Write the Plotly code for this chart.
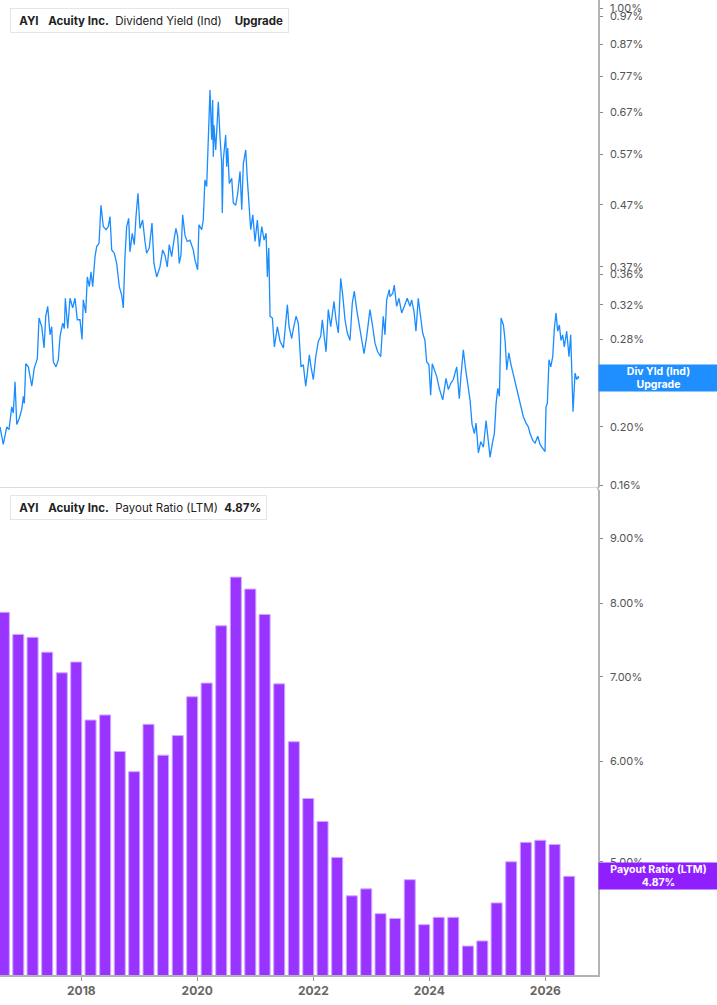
import math
from datetime import datetime
import plotly.graph_objects as go
from plotly.subplots import make_subplots

# ---------------- data ----------------
# Dividend yield (indicated), time in decimal years, value in %
yield_t = [
    2016.598, 2016.655, 2016.714, 2016.753, 2016.800, 2016.827, 2016.857, 2016.886, 2016.931, 2016.972,
    2017.000, 2017.017, 2017.041, 2017.086, 2017.145, 2017.189, 2017.241, 2017.270, 2017.317, 2017.357,
    2017.386, 2017.420, 2017.460, 2017.489, 2017.517, 2017.563, 2017.603, 2017.632, 2017.679, 2017.707,
    2017.724, 2017.765, 2017.805, 2017.851, 2017.891, 2017.931, 2017.977, 2018.012, 2018.034, 2018.076,
    2018.103, 2018.138, 2018.167, 2018.196, 2018.236, 2018.265, 2018.305, 2018.339, 2018.379, 2018.426,
    2018.465, 2018.495, 2018.524, 2018.569, 2018.610, 2018.655, 2018.696, 2018.724, 2018.753, 2018.782,
    2018.817, 2018.839, 2018.879, 2018.914, 2018.943, 2018.977, 2019.012, 2019.058, 2019.098, 2019.127,
    2019.172, 2019.219, 2019.253, 2019.300, 2019.357, 2019.403, 2019.443, 2019.483, 2019.517, 2019.558,
    2019.598, 2019.632, 2019.662, 2019.689, 2019.719, 2019.748, 2019.788, 2019.827, 2019.874, 2019.931,
    2019.960, 2020.007, 2020.029, 2020.076, 2020.103, 2020.132, 2020.162, 2020.189, 2020.219, 2020.248,
    2020.265, 2020.276, 2020.287, 2020.317, 2020.334, 2020.362, 2020.391, 2020.420, 2020.431, 2020.448,
    2020.489, 2020.506, 2020.524, 2020.551, 2020.593, 2020.620, 2020.662, 2020.696, 2020.736, 2020.765,
    2020.793, 2020.834, 2020.862, 2020.891, 2020.920, 2020.955, 2020.994, 2021.034, 2021.069, 2021.110,
    2021.150, 2021.184, 2021.207, 2021.231, 2021.253, 2021.293, 2021.328, 2021.379, 2021.426, 2021.483,
    2021.524, 2021.552, 2021.581, 2021.627, 2021.655, 2021.701, 2021.741, 2021.787, 2021.827, 2021.868,
    2021.896, 2021.931, 2021.960, 2022.000, 2022.041, 2022.086, 2022.127, 2022.155, 2022.184, 2022.219,
    2022.258, 2022.300, 2022.356, 2022.391, 2022.431, 2022.472, 2022.507, 2022.546, 2022.586, 2022.632,
    2022.672, 2022.707, 2022.748, 2022.788, 2022.834, 2022.874, 2022.920, 2022.977, 2023.024, 2023.063,
    2023.110, 2023.162, 2023.206, 2023.236, 2023.265, 2023.310, 2023.322, 2023.369, 2023.396, 2023.437,
    2023.477, 2023.524, 2023.569, 2023.620, 2023.667, 2023.696, 2023.736, 2023.770, 2023.810, 2023.851,
    2023.886, 2023.925, 2023.955, 2023.994, 2024.024, 2024.051, 2024.086, 2024.127, 2024.172, 2024.231,
    2024.288, 2024.327, 2024.374, 2024.413, 2024.472, 2024.517, 2024.546, 2024.586, 2024.627, 2024.662,
    2024.701, 2024.736, 2024.776, 2024.805, 2024.845, 2024.886, 2024.931, 2024.977, 2025.012, 2025.046,
    2025.086, 2025.120, 2025.150, 2025.179, 2025.207, 2025.236, 2025.276, 2025.305, 2025.334, 2025.369,
    2025.408, 2025.448, 2025.494, 2025.534, 2025.581, 2025.620, 2025.667, 2025.707, 2025.736, 2025.782,
    2025.822, 2025.869, 2025.908, 2025.955, 2025.994, 2026.011, 2026.034, 2026.063, 2026.093, 2026.127,
    2026.155, 2026.184, 2026.213, 2026.241, 2026.270, 2026.299, 2026.327, 2026.368, 2026.408, 2026.437,
    2026.455, 2026.477, 2026.512, 2026.541, 2026.569, 2026.575,
]
yield_pct = [
    0.200, 0.187, 0.200, 0.198, 0.216, 0.211, 0.238, 0.202, 0.207, 0.214,
    0.225, 0.219, 0.255, 0.252, 0.234, 0.251, 0.260, 0.304, 0.294, 0.271,
    0.306, 0.318, 0.285, 0.294, 0.257, 0.252, 0.259, 0.283, 0.298, 0.292,
    0.328, 0.292, 0.328, 0.316, 0.328, 0.302, 0.302, 0.280, 0.326, 0.310,
    0.356, 0.343, 0.363, 0.343, 0.385, 0.400, 0.405, 0.469, 0.432, 0.427,
    0.432, 0.449, 0.395, 0.390, 0.375, 0.343, 0.332, 0.316, 0.385, 0.432,
    0.446, 0.392, 0.421, 0.403, 0.449, 0.491, 0.429, 0.443, 0.408, 0.390,
    0.398, 0.438, 0.375, 0.356, 0.370, 0.395, 0.387, 0.370, 0.403, 0.385,
    0.410, 0.429, 0.416, 0.375, 0.387, 0.452, 0.418, 0.408, 0.410, 0.395,
    0.380, 0.366, 0.435, 0.427, 0.443, 0.517, 0.504, 0.619, 0.730, 0.603,
    0.703, 0.565, 0.638, 0.580, 0.626, 0.698, 0.610, 0.551, 0.455, 0.558,
    0.614, 0.544, 0.584, 0.510, 0.520, 0.473, 0.469, 0.491, 0.534, 0.461,
    0.551, 0.580, 0.517, 0.466, 0.427, 0.452, 0.408, 0.443, 0.400, 0.432,
    0.410, 0.421, 0.356, 0.398, 0.306, 0.304, 0.272, 0.294, 0.278, 0.271,
    0.306, 0.320, 0.294, 0.281, 0.292, 0.306, 0.298, 0.252, 0.254, 0.234,
    0.246, 0.264, 0.252, 0.240, 0.262, 0.278, 0.283, 0.302, 0.285, 0.267,
    0.314, 0.294, 0.324, 0.302, 0.287, 0.354, 0.332, 0.302, 0.287, 0.279,
    0.322, 0.337, 0.314, 0.298, 0.283, 0.265, 0.283, 0.314, 0.294, 0.276,
    0.267, 0.262, 0.306, 0.285, 0.326, 0.339, 0.330, 0.334, 0.345, 0.318,
    0.328, 0.310, 0.318, 0.328, 0.318, 0.326, 0.312, 0.289, 0.328, 0.306,
    0.287, 0.279, 0.257, 0.254, 0.226, 0.255, 0.249, 0.243, 0.232, 0.222,
    0.241, 0.231, 0.237, 0.240, 0.252, 0.223, 0.244, 0.269, 0.249, 0.237,
    0.222, 0.202, 0.195, 0.203, 0.181, 0.189, 0.185, 0.205, 0.193, 0.178,
    0.188, 0.195, 0.219, 0.232, 0.225, 0.304, 0.296, 0.279, 0.249, 0.266,
    0.254, 0.244, 0.235, 0.225, 0.216, 0.208, 0.203, 0.200, 0.195, 0.190,
    0.188, 0.193, 0.187, 0.184, 0.182, 0.216, 0.219, 0.259, 0.252, 0.262,
    0.292, 0.310, 0.289, 0.296, 0.279, 0.285, 0.272, 0.289, 0.262, 0.285,
    0.249, 0.212, 0.246, 0.240, 0.243, 0.241,
]

# Payout ratio (LTM), fiscal quarter ends, value in %
payout_dates = [
    "2016-08-31", "2016-11-30", "2017-02-28", "2017-05-31", "2017-08-31", "2017-11-30",
    "2018-02-28", "2018-05-31", "2018-08-31", "2018-11-30", "2019-02-28", "2019-05-31",
    "2019-08-31", "2019-11-30", "2020-02-29", "2020-05-31", "2020-08-31", "2020-11-30",
    "2021-02-28", "2021-05-31", "2021-08-31", "2021-11-30", "2022-02-28", "2022-05-31",
    "2022-08-31", "2022-11-30", "2023-02-28", "2023-05-31", "2023-08-31", "2023-11-30",
    "2024-02-29", "2024-05-31", "2024-08-31", "2024-11-30", "2025-02-28", "2025-05-31",
    "2025-08-31", "2025-11-30", "2026-02-28", "2026-05-31",
]
payout_pct = [
    7.87, 7.56, 7.52, 7.32, 7.05, 7.19, 6.47, 6.53, 6.11, 5.89,
    6.42, 6.07, 6.29, 6.75, 6.92, 7.68, 8.39, 8.21, 7.84, 6.91,
    6.22, 5.61, 5.38, 5.04, 4.70, 4.76, 4.55, 4.51, 4.84, 4.46,
    4.52, 4.52, 4.29, 4.33, 4.64, 5.00, 5.18, 5.20, 5.16, 4.87,
]

yield_ticks = [1.00, 0.97, 0.87, 0.77, 0.67, 0.57, 0.47, 0.37, 0.36, 0.32, 0.28, 0.24, 0.20, 0.16]
payout_ticks = [9.00, 8.00, 7.00, 6.00, 5.00]
year_ticks = ["2018-01-01", "2020-01-01", "2022-01-01", "2024-01-01", "2026-01-01"]
year_labels = ["2018", "2020", "2022", "2024", "2026"]


def dec_to_date(t):
    y = int(t)
    a, b = datetime(y, 1, 1), datetime(y + 1, 1, 1)
    return a + (b - a) * (t - y)


yield_dates = [dec_to_date(t) for t in yield_t]

# ---------------- figure ----------------
W, H = 717, 1005
BLUE = "#1a8cff"
PURPLE = "#9933ff"
FONT = "Inter"

fig = make_subplots(rows=2, cols=1, shared_xaxes=False, vertical_spacing=0.0)

fig.add_trace(go.Scatter(x=yield_dates, y=yield_pct, mode="lines",
                         line=dict(color=BLUE, width=1.3), showlegend=False),
              row=1, col=1)
fig.add_trace(go.Bar(x=payout_dates, y=payout_pct, width=6.0e9,
                     marker=dict(color=PURPLE, line=dict(color="#cfa8ff", width=1)),
                     showlegend=False),
              row=2, col=1)

xr = [dec_to_date(2016.598), dec_to_date(2026.908)]
xdom = [0, 598 / W]

fig.update_layout(
    width=W, height=H,
    margin=dict(l=0, r=0, t=0, b=0, autoexpand=False),
    paper_bgcolor="white", plot_bgcolor="white",
    font=dict(family=FONT, size=11, color="#555"),
    xaxis=dict(domain=xdom, range=xr, type="date", showgrid=False, zeroline=False,
               showticklabels=False, ticks="", showline=True, linecolor="#dcdcdc", linewidth=1,
               anchor="y", automargin=False),
    yaxis=dict(domain=[1 - 487 / H, 1.0], type="log",
               range=[math.log10(0.1588), math.log10(1.032)],
               side="right", anchor="x", showgrid=False, zeroline=False,
               showline=True, linecolor="#b3b3b3", linewidth=1.5,
               ticks="outside", ticklen=3, tickcolor="#888", ticklabelstandoff=5,
               tickvals=yield_ticks, ticktext=[f"{v:.2f}%" for v in yield_ticks],
               tickfont=dict(size=11, color="#555", family=FONT), automargin=False),
    xaxis2=dict(domain=xdom, range=xr, type="date", showgrid=False, zeroline=False,
                showline=True, linecolor="#b3b3b3", linewidth=1.5,
                ticks="outside", ticklen=4, tickcolor="#999",
                tickvals=year_ticks, ticktext=year_labels,
                tickfont=dict(size=12, color="#666", family=FONT, weight="bold"),
                anchor="y2", automargin=False),
    yaxis2=dict(domain=[1 - 975 / H, 1 - 490 / H], type="log",
                range=[math.log10(4.07), math.log10(9.83)],
                side="right", anchor="x2", showgrid=False, zeroline=False,
                showline=True, linecolor="#b3b3b3", linewidth=1.5,
                ticks="outside", ticklen=3, tickcolor="#888", ticklabelstandoff=5,
                tickvals=payout_ticks, ticktext=[f"{v:.2f}%" for v in payout_ticks],
                tickfont=dict(size=11, color="#555", family=FONT), automargin=False),
)

# vertical axis line spanning the gap between panels
fig.add_shape(type="line", xref="paper", yref="paper", x0=598 / W, x1=598 / W,
              y0=1 - 490 / H, y1=1 - 487 / H, line=dict(color="#b3b3b3", width=1.5))

# legend boxes
def legend_box(ytop, text, color):
    fig.add_annotation(xref="paper", yref="paper", x=10 / W, y=1 - ytop / H,
                       xanchor="left", yanchor="top", text=text, showarrow=False,
                       align="left", bgcolor="white", bordercolor="#e6e6e6", borderwidth=1,
                       borderpad=5, height=13,
                       font=dict(family=FONT, size=11.5, color="#222"))
    fig.add_shape(type="rect", xref="paper", yref="paper",
                  x0=10 / W, x1=13 / W, y0=1 - (ytop + 25) / H, y1=1 - ytop / H,
                  fillcolor=color, line=dict(width=0))

legend_box(8, "&nbsp;<b>AYI</b>&nbsp;&nbsp;&nbsp;<b>Acuity Inc.</b>&nbsp;&nbsp;Dividend Yield (Ind)&nbsp;&nbsp;&nbsp;&nbsp;<b>Upgrade</b>",
           BLUE)
legend_box(495, "&nbsp;<b>AYI</b>&nbsp;&nbsp;&nbsp;<b>Acuity Inc.</b>&nbsp;&nbsp;Payout Ratio (LTM)&nbsp;&nbsp;<b>4.87%</b>",
           "#8f1fff")

# last-value labels on the right axis
fig.add_annotation(xref="paper", yref="y", x=598 / W, y=math.log10(yield_pct[-1]),
                   xanchor="left", yanchor="middle", showarrow=False,
                   text="<b>Div Yld (Ind)<br>Upgrade</b>", align="center",
                   bgcolor="#1f8fff", width=117, height=24, borderpad=1,
                   font=dict(family=FONT, size=10.5, color="white"))
fig.add_annotation(xref="paper", yref="y2", x=598 / W, y=math.log10(payout_pct[-1]),
                   xanchor="left", yanchor="middle", showarrow=False,
                   text=f"<b>Payout Ratio (LTM)<br>{payout_pct[-1]:.2f}%</b>", align="center",
                   bgcolor="#8f1fff", width=117, height=24, borderpad=1,
                   font=dict(family=FONT, size=10.5, color="white"))

fig.write_html("out.html", config={"displayModeBar": False},
               post_script="document.body.style.margin='0';document.body.style.overflow='hidden';")
